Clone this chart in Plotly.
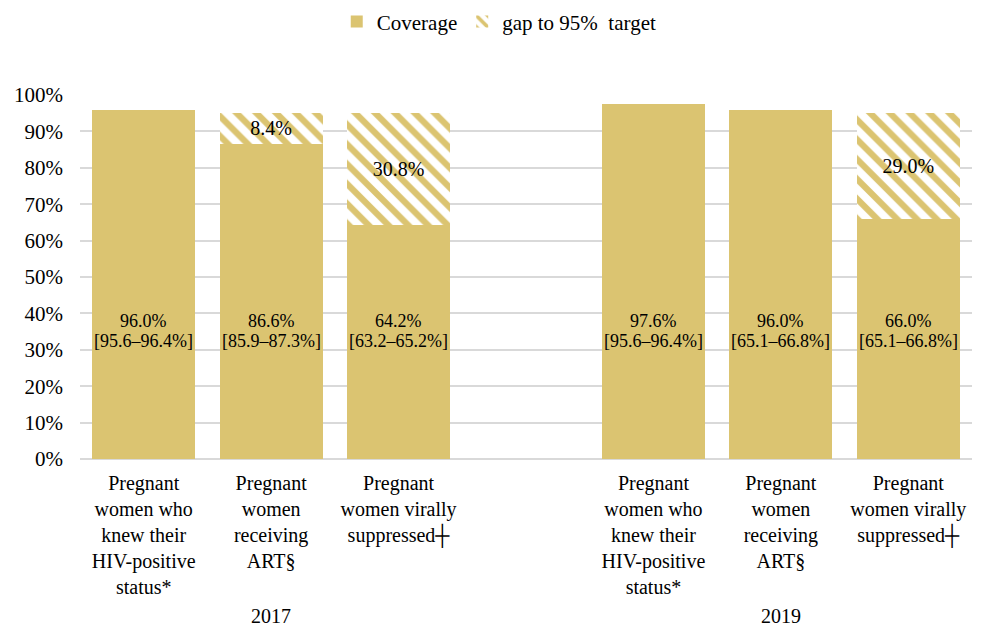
import plotly.graph_objects as go

# categories (blank slot separates the two years)
cats = ["a1", "a2", "a3", "gap", "b1", "b2", "b3"]
cat_labels = [
    "Pregnant<br>women who<br>knew their<br>HIV-positive<br>status*",
    "Pregnant<br>women<br>receiving<br>ART§",
    "Pregnant<br>women virally<br>suppressed┼",
    "",
    "Pregnant<br>women who<br>knew their<br>HIV-positive<br>status*",
    "Pregnant<br>women<br>receiving<br>ART§",
    "Pregnant<br>women virally<br>suppressed┼",
]
coverage = [96.0, 86.6, 64.2, None, 97.6, 96.0, 66.0]
gap = [0, 8.4, 30.8, None, 0, 0, 29.0]
gap_text = ["", "8.4%", "30.8%", "", "", "", "29.0%"]
cov_val = ["96.0%", "86.6%", "64.2%", "", "97.6%", "96.0%", "66.0%"]
cov_ci = ["[95.6–96.4%]", "[85.9–87.3%]", "[63.2–65.2%]", "",
          "[95.6–96.4%]", "[65.1–66.8%]", "[65.1–66.8%]"]
years = ["2017", "2019"]
year_pos = ["a2", "b2"]

gold = "#DBC471"
font = "Liberation Serif"

fig = go.Figure()
fig.add_trace(go.Bar(x=cats, y=coverage, name="Coverage", marker=dict(color=gold, line=dict(width=0))))
fig.add_trace(go.Bar(x=cats, y=gap, name="gap to 95%  target", text=gap_text,
                     textposition="inside", insidetextanchor="middle", textangle=0,
                     textfont=dict(size=20, color="black", family=font),
                     marker=dict(color="white", line=dict(width=0),
                                 pattern=dict(shape="\\", fgcolor=gold, bgcolor="white",
                                              fgopacity=1, size=14, solidity=0.45))))

# value and CI inside the coverage bars, as two separate lines
for c, v, ci in zip(cats, cov_val, cov_ci):
    if v:
        fig.add_annotation(x=c, y=37.9, text=v, showarrow=False,
                           font=dict(size=18, color="black", family=font))
        fig.add_annotation(x=c, y=32.4, text=ci, showarrow=False,
                           font=dict(size=18, color="black", family=font))

for c, yr in zip(year_pos, years):
    fig.add_annotation(x=c, y=0, yref="paper", yshift=-170, text=yr, showarrow=False,
                       font=dict(size=20, color="black", family=font))

# page body has an 8px margin, so shift the margins to compensate
fig.update_layout(
    barmode="stack",
    bargap=0.19,
    width=981, height=629,
    margin=dict(l=72, r=17, t=87, b=178),
    plot_bgcolor="white", paper_bgcolor="white",
    font=dict(family=font, size=20, color="black"),
    legend=dict(orientation="h", x=0.47, xanchor="center", y=0.978, yref="container",
                yanchor="middle", font=dict(size=21, family=font), traceorder="normal"),
)
fig.update_xaxes(tickvals=cats, ticktext=cat_labels, showline=False, ticks="",
                 tickfont=dict(size=20, family=font), automargin=False, ticklabelstandoff=10)
fig.update_yaxes(range=[0, 100], dtick=10, ticksuffix="%", gridcolor="#D9D9D9",
                 gridwidth=1.5, zeroline=True, zerolinecolor="#D9D9D9", zerolinewidth=1.5,
                 tickfont=dict(size=21, family=font), automargin=False, ticklabelstandoff=16)

fig.write_html("out.html")
